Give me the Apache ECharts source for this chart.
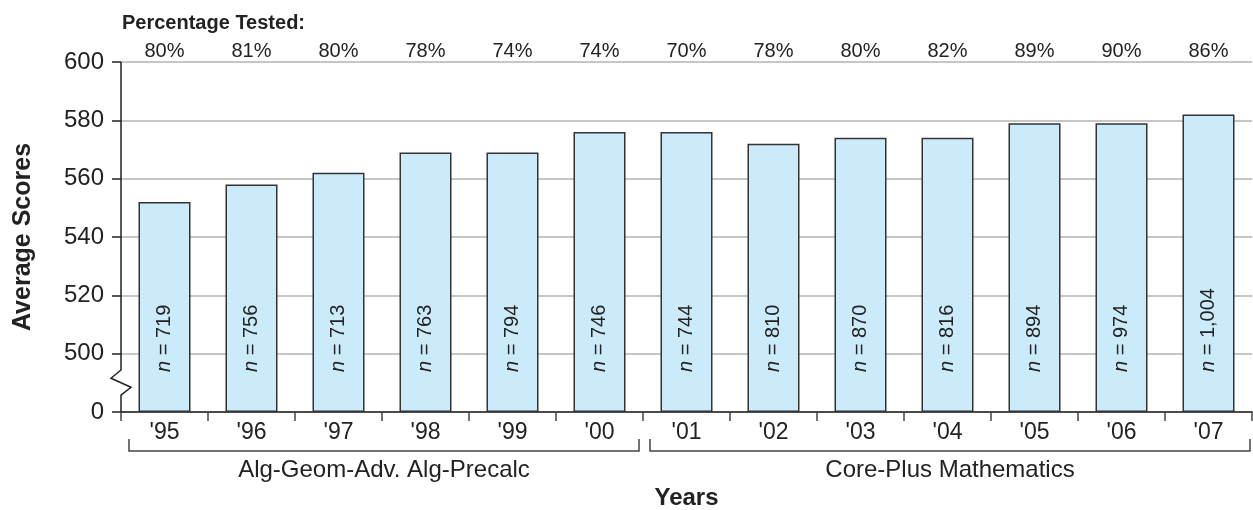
<!DOCTYPE html>
<html>
<head>
<meta charset="utf-8">
<script src="https://cdn.jsdelivr.net/npm/echarts@6/dist/echarts.min.js"></script>
<style>
html,body{margin:0;padding:0;background:#fff;}
#chart{width:1253px;height:510px;}
</style>
</head>
<body>
<div id="chart"></div>
<script>
const categories = ["'95", "'96", "'97", "'98", "'99", "'00", "'01", "'02", "'03", "'04", "'05", "'06", "'07"];
const scores = [552, 558, 562, 569, 569, 576, 576, 572, 574, 574, 579, 579, 582];
const nValues = ["719", "756", "713", "763", "794", "746", "744", "810", "870", "816", "894", "974", "1,004"];
const pctTested = ["80%", "81%", "80%", "78%", "74%", "74%", "70%", "78%", "80%", "82%", "89%", "90%", "86%"];
const yMin = 480, yMax = 600, yStep = 20;       // 480 stands for the broken "0" baseline
const groupNames = ["Alg-Geom-Adv. Alg-Precalc", "Core-Plus Mathematics"];
const groupStart = [0, 6];
const groupEnd = [5, 12];

const FONT = "'Liberation Sans', Arial, Helvetica, sans-serif";
const TXT = '#222';
const chart = echarts.init(document.getElementById('chart'));

chart.setOption({
  animation: false,
  backgroundColor: '#fff',
  textStyle: { fontFamily: FONT, color: TXT },
  title: {
    text: 'Percentage Tested:',
    left: 122, top: 13, padding: 0,
    textStyle: { fontFamily: FONT, fontSize: 20, fontWeight: 'bold', color: TXT }
  },
  grid: { left: 121, right: 1, top: 62, bottom: 98, containLabel: false, outerBoundsMode: 'none' },
  xAxis: [
    {
      type: 'category',
      data: categories,
      position: 'bottom',
      name: 'Years',
      nameLocation: 'middle',
      nameGap: 74,
      nameTextStyle: { fontFamily: FONT, fontSize: 24, fontWeight: 'bold', color: TXT },
      axisLine: { show: true, lineStyle: { color: '#222', width: 1.5 } },
      axisTick: { show: true, length: 9, lineStyle: { color: '#444', width: 1.5 } },
      axisLabel: { fontFamily: FONT, fontSize: 23, color: TXT, margin: 9 },
      splitLine: { show: false }
    },
    {
      type: 'category',
      data: pctTested,
      position: 'top',
      axisLine: { show: false },
      axisTick: { show: false },
      axisLabel: { fontFamily: FONT, fontSize: 20, color: TXT, margin: 1 },
      splitLine: { show: false }
    }
  ],
  yAxis: {
    type: 'value',
    min: yMin, max: yMax, interval: yStep,
    startValue: yMin,
    name: 'Average Scores',
    nameLocation: 'middle',
    nameGap: 85,
    nameTextStyle: { fontFamily: FONT, fontSize: 25, fontWeight: 'bold', color: TXT },
    axisLine: { show: false },
    axisTick: { show: true, length: 9, lineStyle: { color: '#222', width: 1.5 } },
    axisLabel: {
      fontFamily: FONT, fontSize: 24, color: TXT, margin: 17,
      formatter: v => (v === yMin ? '0' : String(v))
    },
    splitLine: {
      show: true,
      lineStyle: { color: '#b3b3b3', width: 1.5 }
    }
  },
  series: [{
    type: 'bar',
    data: scores,
    barWidth: 52,
    clip: true,
    itemStyle: { color: '#ccebfa', borderColor: '#333', borderWidth: 1.5 },
    label: {
      show: true,
      position: 'insideBottom',
      distance: 40,
      rotate: 90,
      align: 'left',
      verticalAlign: 'middle',
      fontFamily: FONT,
      fontSize: 20,
      color: TXT,
      formatter: p => '{i|n} = ' + nValues[p.dataIndex],
      rich: { i: { fontStyle: 'italic', fontSize: 20, fontFamily: FONT, color: TXT } }
    },
    z: 2
  }]
});

function drawDecor() {
  const c0 = chart.convertToPixel({ xAxisIndex: 0 }, categories[0]);
  const c1 = chart.convertToPixel({ xAxisIndex: 0 }, categories[1]);
  const half = (c1 - c0) / 2;
  const x0 = c0 - half;
  const yBase = chart.convertToPixel({ yAxisIndex: 0 }, yMin);
  const y500 = chart.convertToPixel({ yAxisIndex: 0 }, yMin + yStep);
  const yTop = chart.convertToPixel({ yAxisIndex: 0 }, yMax);
  const span = yBase - y500;
  const zz = [0.72, 0.578, 0.424, 0.29].map(f => yBase - f * span);

  const g = [];
  // broken y axis line
  g.push({
    type: 'polyline', z: 10, silent: true,
    shape: { points: [[x0, yTop], [x0, zz[0]], [x0 - 10, zz[1]], [x0 + 10, zz[2]], [x0, zz[3]], [x0, yBase]] },
    style: { stroke: '#222', lineWidth: 1.5, fill: null }
  });
  // group brackets + labels
  const insetL = [8, 7], insetR = [4, 2];
  for (let i = 0; i < groupNames.length; i++) {
    const xa = chart.convertToPixel({ xAxisIndex: 0 }, categories[groupStart[i]]) - half + insetL[i];
    const xb = chart.convertToPixel({ xAxisIndex: 0 }, categories[groupEnd[i]]) + half - insetR[i];
    const yT = yBase + 27, yH = yBase + 39;
    g.push({
      type: 'polyline', z: 10, silent: true,
      shape: { points: [[xa, yT], [xa, yH], [xb, yH], [xb, yT]] },
      style: { stroke: '#444', lineWidth: 1.5, fill: null }
    });
    g.push({
      type: 'text', z: 10, silent: true,
      x: (xa + xb) / 2, y: yBase + 58,
      style: {
        text: groupNames[i], fontFamily: FONT, fontSize: 24, fill: TXT,
        align: 'center', verticalAlign: 'middle'
      }
    });
  }
  chart.setOption({ graphic: g });
}
drawDecor();
</script>
</body>
</html>
